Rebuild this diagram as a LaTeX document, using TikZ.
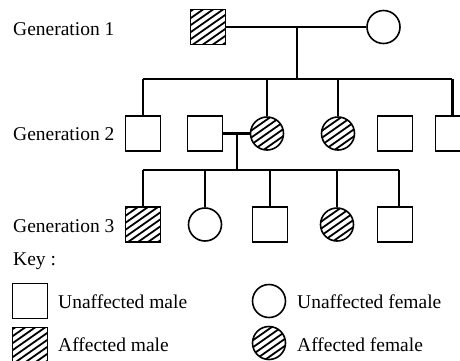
\documentclass[tikz,border=0pt]{standalone}
\usepackage{fontspec}
\setmainfont{Liberation Serif}
\begin{document}
\begin{tikzpicture}[x=1pt,y=-1pt,
	male/.style={ rectangle, draw, line width=1.6pt, inner sep=0pt, minimum size=35pt },
	female/.style={ circle, draw, line width=1.6pt, inner sep=0pt, minimum size=33pt },
	hatch/.style={ path picture={
		\foreach \k in {-35,-28,...,35}
			\draw[line width=1.8pt] ([yshift=\k pt]path picture bounding box.center) ++(-30pt,-21pt) -- ++(60pt,42pt);
	} },
	link/.style={ line width=1.5pt },
	boldlink/.style={ line width=3pt },
	txt/.style={ anchor=base west, inner sep=0pt, font=\fontsize{19.5}{21}\selectfont }
]
\useasboundingbox (0,0) rectangle (460,360);

\node at (13,35) (g1) [txt] {Generation 1};
\node at (13,140) (g2) [txt] {Generation 2};
\node at (13,232) (g3) [txt] {Generation 3};

% generation 1
\node at (208,27) (f1) [male,hatch] {};
\node at (383.5,27) (m1) [female] {};
\draw[link] (f1) to (m1);
\coordinate (c1) at (297,27);
\coordinate (s1) at (297,79);
\draw[link] (c1) to (s1);
\coordinate (s1l) at (143,79);
\coordinate (s1r) at (452,79);
\draw[link] (s1l) to (s1r);

% generation 2
\node at (143,133.5) (a1) [male] {};
\node at (205,133.5) (a2) [male] {};
\node at (267,133.5) (a3) [female,hatch] {};
\node at (338,133.5) (a4) [female,hatch] {};
\node at (395,133.5) (a5) [male] {};
\node at (453,133.5) (a6) [male] {};
\foreach \p in {a1,a3,a4} \draw[link] (s1l -| \p) to (\p);
\draw[boldlink] (s1r) to (a6.north -| s1r);
\draw[boldlink] (a2) to (a3);
\coordinate (c2) at (237,133.5);
\coordinate (s2) at (237,170);
\draw[link] (c2) to (s2);
\coordinate (s2l) at (143,170);
\coordinate (s2r) at (399,170);
\draw[link] (s2l) to (s2r);

% generation 3
\node at (143,224.5) (b1) [male,hatch] {};
\node at (205,224.5) (b2) [female] {};
\node at (270,224.5) (b3) [male] {};
\node at (337,224.5) (b4) [female,hatch] {};
\node at (395,224.5) (b5) [male] {};
\foreach \p in {b1,b2,b4} \draw[link] (s2l -| \p) to (\p);
\draw[line width=2.3pt] (s2l -| b3) to (b3);
\draw[link] (s2r) to (b5.north -| s2r);

% key
\node at (13,265) (key) [txt] {Key :};
\node at (30,301) (k1) [male] {};
\node at (58,308) (k1t) [txt] {Unaffected male};
\node at (269,301) (k2) [female] {};
\node at (297,308) (k2t) [txt] {Unaffected\ female};
\node at (30,345) (k3) [male,hatch] {};
\node at (58,351) (k3t) [txt] {Affected male};
\node at (269,343) (k4) [female,hatch] {};
\node at (297,351) (k4t) [txt] {Affected female};

\end{tikzpicture}
\end{document}
